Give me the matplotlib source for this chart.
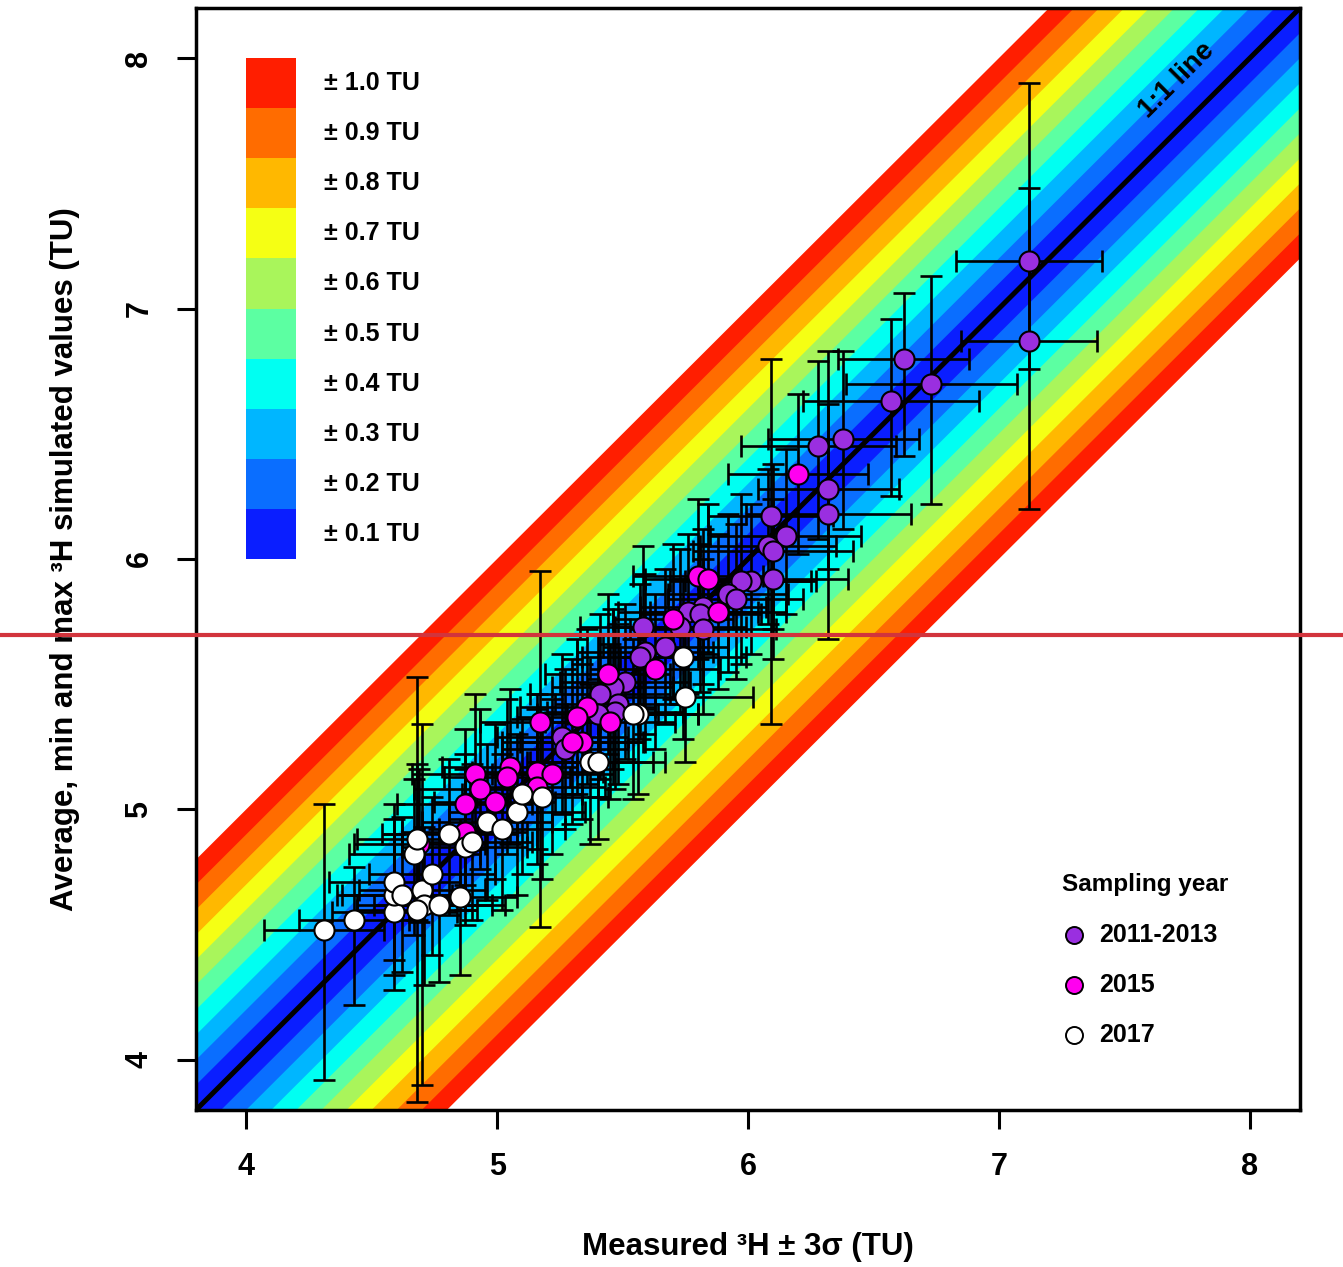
import numpy as np
import matplotlib
matplotlib.use("Agg")
import matplotlib.pyplot as plt
from matplotlib.lines import Line2D
from matplotlib.patches import Rectangle

plt.rcParams['font.family'] = ['Liberation Sans', 'DejaVu Sans']
plt.rcParams['font.weight'] = 'bold'

# deviation bands around the 1:1 line (TU) and their colours
band_widths = [0.1, 0.2, 0.3, 0.4, 0.5, 0.6, 0.7, 0.8, 0.9, 1.0]
band_colors = ['#0A1EFF', '#0A6EFF', '#00B6FF', '#00FFF2', '#5CFFA2',
               '#A9F55B', '#F5FF14', '#FFB800', '#FF6C00', '#FF1E00']
band_labels = ['± 0.1 TU', '± 0.2 TU', '± 0.3 TU', '± 0.4 TU', '± 0.5 TU',
               '± 0.6 TU', '± 0.7 TU', '± 0.8 TU', '± 0.9 TU', '± 1.0 TU']

# 2011-2013 samples: measured, simulated average, 3 sigma, simulated min / max
x_1113 = [7.12, 7.12, 6.62, 6.73, 6.57, 6.38, 6.28, 6.32, 6.32, 6.09, 6.15, 6.08,
          6.10, 6.10, 6.01, 5.97, 5.92, 5.95, 5.82, 5.76, 5.81, 5.73, 5.58, 5.82,
          5.67, 5.59, 5.57, 5.51, 5.46, 5.41, 5.48, 5.47, 5.40, 5.26, 5.27]
y_1113 = [7.19, 6.87, 6.80, 6.70, 6.63, 6.48, 6.45, 6.28, 6.18, 6.17, 6.09, 6.05,
          6.03, 5.92, 5.91, 5.91, 5.86, 5.84, 5.81, 5.79, 5.78, 5.73, 5.73, 5.72,
          5.65, 5.63, 5.61, 5.51, 5.49, 5.46, 5.42, 5.39, 5.38, 5.29, 5.24]
xe_1113 = [0.29, 0.27, 0.26, 0.34, 0.35, 0.30, 0.31, 0.28, 0.33, 0.25, 0.30, 0.27,
           0.32, 0.30, 0.26, 0.28, 0.24, 0.27, 0.25, 0.28, 0.24, 0.26, 0.25, 0.29,
           0.25, 0.27, 0.23, 0.26, 0.24, 0.28, 0.25, 0.27, 0.24, 0.26, 0.25]
ymin_1113 = [6.76, 6.20, 6.41, 6.22, 6.25, 6.12, 6.08, 5.96, 5.68, 5.34, 5.78, 5.74,
             5.72, 5.60, 5.62, 5.58, 5.55, 5.52, 5.50, 5.46, 5.47, 5.42, 5.40, 5.38,
             5.34, 5.30, 5.28, 5.20, 5.16, 5.12, 5.10, 5.08, 5.05, 4.98, 4.92]
ymax_1113 = [7.90, 7.48, 7.06, 7.13, 6.96, 6.83, 6.79, 6.62, 6.83, 6.80, 6.44, 6.36,
             6.38, 6.24, 6.22, 6.26, 6.18, 6.14, 6.12, 6.10, 6.06, 6.04, 6.05, 6.00,
             5.96, 5.94, 5.90, 5.82, 5.80, 5.78, 5.74, 5.70, 5.70, 5.62, 5.56]

# 2015 samples
x_2015 = [6.20, 5.80, 5.84, 5.88, 5.70, 5.63, 5.44, 5.36, 5.32, 5.45, 5.34, 5.30,
          5.17, 5.05, 5.04, 5.16, 5.22, 5.16, 4.91, 4.93, 4.99, 4.87, 4.87, 4.69]
y_2015 = [6.34, 5.93, 5.92, 5.79, 5.76, 5.56, 5.54, 5.41, 5.37, 5.35, 5.27, 5.27,
          5.35, 5.17, 5.13, 5.15, 5.14, 5.09, 5.14, 5.08, 5.03, 5.02, 4.91, 4.86]
xe_2015 = [0.28, 0.26, 0.25, 0.27, 0.24, 0.26, 0.25, 0.27, 0.24, 0.26, 0.25, 0.28,
           0.24, 0.27, 0.25, 0.26, 0.24, 0.27, 0.25, 0.26, 0.24, 0.27, 0.25, 0.26]
ymin_2015 = [6.02, 5.60, 5.62, 5.48, 5.44, 5.24, 5.22, 5.10, 5.06, 5.04, 4.96, 4.94,
             4.53, 4.86, 4.82, 4.84, 4.82, 4.78, 4.84, 4.76, 4.72, 4.70, 4.60, 4.55]
ymax_2015 = [6.66, 6.24, 6.22, 6.10, 6.06, 5.86, 5.86, 5.72, 5.68, 5.66, 5.58, 5.60,
             5.95, 5.48, 5.44, 5.46, 5.44, 5.40, 5.46, 5.40, 5.34, 5.32, 5.22, 5.16]

# 2017 samples
x_2017 = [4.31, 4.43, 4.59, 4.59, 4.59, 4.62, 4.70, 4.71, 4.68, 4.77, 4.74, 4.85,
          4.67, 4.68, 4.81, 4.87, 4.90, 4.96, 5.02, 5.08, 5.10, 5.18, 5.37, 5.40,
          5.56, 5.54, 5.74, 5.75]
y_2017 = [4.52, 4.56, 4.59, 4.66, 4.71, 4.66, 4.68, 4.62, 4.60, 4.62, 4.74, 4.65,
          4.82, 4.88, 4.90, 4.85, 4.87, 4.95, 4.92, 4.99, 5.06, 5.05, 5.19, 5.19,
          5.38, 5.38, 5.61, 5.45]
xe_2017 = [0.24, 0.22, 0.25, 0.23, 0.26, 0.24, 0.25, 0.27, 0.24, 0.26, 0.25, 0.23,
           0.26, 0.24, 0.27, 0.25, 0.24, 0.26, 0.25, 0.27, 0.24, 0.26, 0.25, 0.27,
           0.24, 0.26, 0.25, 0.27]
ymin_2017 = [3.92, 4.22, 4.28, 4.34, 4.40, 4.35, 3.90, 4.30, 3.83, 4.31, 4.42, 4.34,
             4.50, 4.56, 4.58, 4.54, 4.56, 4.64, 4.60, 4.66, 4.74, 4.72, 4.86, 4.88,
             5.06, 5.04, 5.28, 5.19]
ymax_2017 = [5.02, 4.77, 4.90, 4.96, 5.02, 4.97, 5.34, 4.93, 5.53, 4.92, 5.05, 4.96,
             5.12, 5.18, 5.20, 5.16, 5.18, 5.26, 5.22, 5.30, 5.36, 5.36, 5.50, 5.52,
             5.70, 5.68, 5.92, 5.76]

year_labels = ['2011-2013', '2015', '2017']
year_colors = ['#9A2FE0', '#FF00F0', '#FFFFFF']

fig = plt.figure(figsize=(13.43, 12.67), dpi=100)
ax = fig.add_axes([0.146, 0.124, 0.822, 0.8697])
lo, hi = 3.8, 8.2
ax.set_xlim(lo, hi)
ax.set_ylim(lo, hi)

# bands, widest first
xx = np.array([lo - 1.5, hi + 1.5])
for w, c in sorted(zip(band_widths, band_colors), reverse=True):
    ax.fill_between(xx, xx - w, xx + w, color=c, lw=0, zorder=1)
ax.plot(xx, xx, color='black', lw=3.6, zorder=2)
ax.text(7.71, 7.91, '1:1 line', rotation=45, ha='center', va='center',
        fontsize=20, fontweight='bold', zorder=2)

# colour key
for i, (c, lab) in enumerate(zip(band_colors, band_labels)):
    ax.add_patch(Rectangle((4.0, 6.0 + 0.2 * i), 0.2, 0.2, color=c, lw=0, zorder=3))
    ax.text(4.31, 6.1 + 0.2 * i, lab, ha='left', va='center', fontsize=18,
            fontweight='bold', zorder=3)

groups = [(x_1113, y_1113, xe_1113, ymin_1113, ymax_1113),
          (x_2015, y_2015, xe_2015, ymin_2015, ymax_2015),
          (x_2017, y_2017, xe_2017, ymin_2017, ymax_2017)]

for gx, gy, gxe, gmin, gmax in groups:
    gx, gy = np.array(gx), np.array(gy)
    yerr = [gy - np.array(gmin), np.array(gmax) - gy]
    ax.errorbar(gx, gy, xerr=gxe, yerr=yerr, fmt='none', ecolor='black',
                elinewidth=1.9, capsize=8, capthick=1.9, zorder=4)

for (gx, gy, _, _, _), c in zip(groups, year_colors):
    ax.scatter(gx, gy, s=210, color=c, edgecolor='black', linewidth=1.5, zorder=5)

# year key
ax.text(7.25, 4.70, 'Sampling year', ha='left', va='center', fontsize=17.5,
        fontweight='bold')
for i, (lab, c) in enumerate(zip(year_labels, year_colors)):
    yk = 4.50 - 0.2 * i
    ax.scatter([7.30], [yk], s=150, color=c, edgecolor='black', linewidth=1.4, zorder=5)
    ax.text(7.40, yk, lab, ha='left', va='center', fontsize=18, fontweight='bold')

ticks = [4, 5, 6, 7, 8]
ax.set_xticks(ticks)
ax.set_yticks(ticks)
ax.tick_params(direction='out', length=14, width=2.2, labelsize=22, pad=16)
for lab in ax.get_yticklabels():
    lab.set_rotation(90)
    lab.set_va('center')
for s in ax.spines.values():
    s.set_linewidth(2.5)

ax.set_xlabel('Measured ³H ± 3σ (TU)', fontsize=22.5, fontweight='bold', labelpad=36)
ax.set_ylabel('Average, min and max ³H simulated values (TU)', fontsize=22.5,
              fontweight='bold', labelpad=32)

fig.add_artist(Line2D([0, 1], [0.4988, 0.4988], transform=fig.transFigure,
                      color='#D2343C', lw=3))

fig.savefig('out.png', dpi=100)
